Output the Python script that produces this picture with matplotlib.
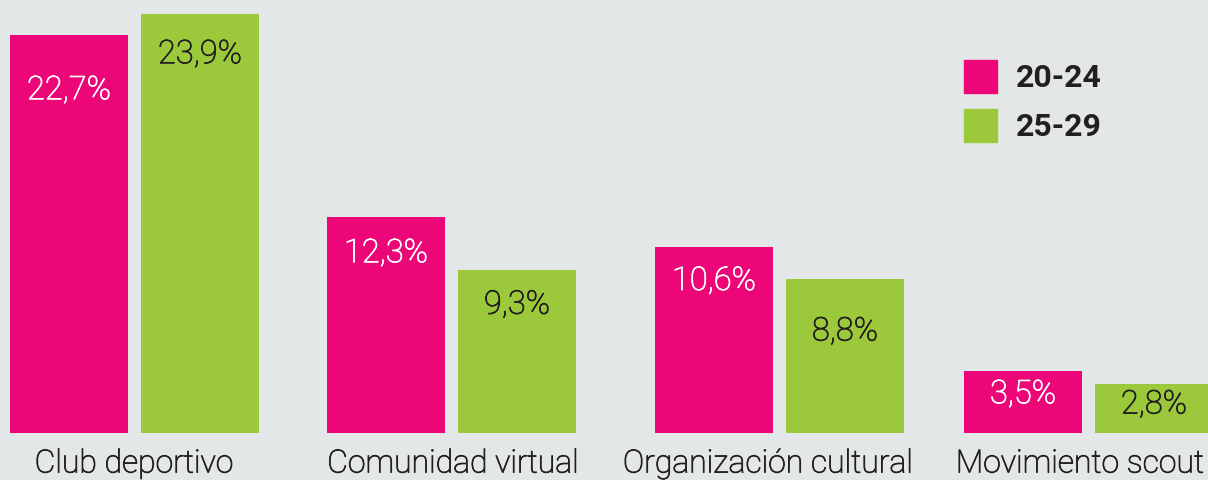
import matplotlib
matplotlib.use("Agg")
import matplotlib.pyplot as plt
from matplotlib.patches import Rectangle
import matplotlib.patheffects as pe

categories = ["Club deportivo", "Comunidad virtual", "Organización cultural", "Movimiento scout"]
series_names = ["20-24", "25-29"]
values_2024 = [22.7, 12.3, 10.6, 3.5]
values_2529 = [23.9, 9.3, 8.8, 2.8]

# layout (pixels)
W, H = 1208, 481
base_px = 433.5
px_per_unit = 17.5
group_left = [10, 327, 655, 964]
bar_w = 118
gap = 13
label_offsets = [[55, 40], [36, 35], [34, 53], [23, 21]]  # px below bar top
cat_centers = [134, 453, 768, 1080]

magenta = "#EC0677"
green = "#9BC93B"
dark = "#231F20"
bg = "#E3E7E7"

fig = plt.figure(figsize=(W / 100, H / 100), dpi=100)
fig.patch.set_facecolor(bg)
ax = fig.add_axes([0, 0, 1, 1])
ax.set_facecolor(bg)
ax.set_xlim(0, W)
ax.set_ylim(-(H - base_px) / px_per_unit, base_px / px_per_unit)
ax.axis("off")

fam = ["Roboto", "DejaVu Sans"]

def thick(col):
    return [pe.withStroke(linewidth=0.6, foreground=col)]

def fmt(v):
    return f"{v:.1f}".replace(".", ",") + "%"

for i, cat in enumerate(categories):
    x0 = group_left[i]
    x1 = x0 + bar_w + gap
    ax.bar(x0, values_2024[i], width=bar_w, align="edge", color=magenta)
    ax.bar(x1, values_2529[i], width=bar_w, align="edge", color=green)
    ax.annotate(fmt(values_2024[i]), (x0 + bar_w / 2, values_2024[i]),
                xytext=(0, -label_offsets[i][0] * 0.72), textcoords="offset points",
                ha="center", va="center", color="white", fontsize=23.5,
                family=fam, fontweight="light", path_effects=thick("white"))
    ax.annotate(fmt(values_2529[i]), (x1 + bar_w / 2, values_2529[i]),
                xytext=(0, -label_offsets[i][1] * 0.72), textcoords="offset points",
                ha="center", va="center", color=dark, fontsize=23.5,
                family=fam, fontweight="light", path_effects=thick(dark))
    ax.text(cat_centers[i], -(465 - base_px) / px_per_unit, cat,
            ha="center", va="center", color=dark, fontsize=23,
            family=fam, fontweight="light", path_effects=thick(dark))

# legend drawn manually in figure coordinates
for j, (name, col) in enumerate(zip(series_names, [magenta, green])):
    top = 61 + j * 49
    fig.patches.append(Rectangle((964 / W, 1 - (top + 33) / H), 33 / W, 33 / H,
                                 transform=fig.transFigure, color=col))
    fig.text(1016 / W, 1 - (top + 17) / H, name, ha="left", va="center",
             color=dark, fontsize=23, fontweight="bold", family=fam)

fig.savefig("out.png", dpi=100, facecolor=bg)
